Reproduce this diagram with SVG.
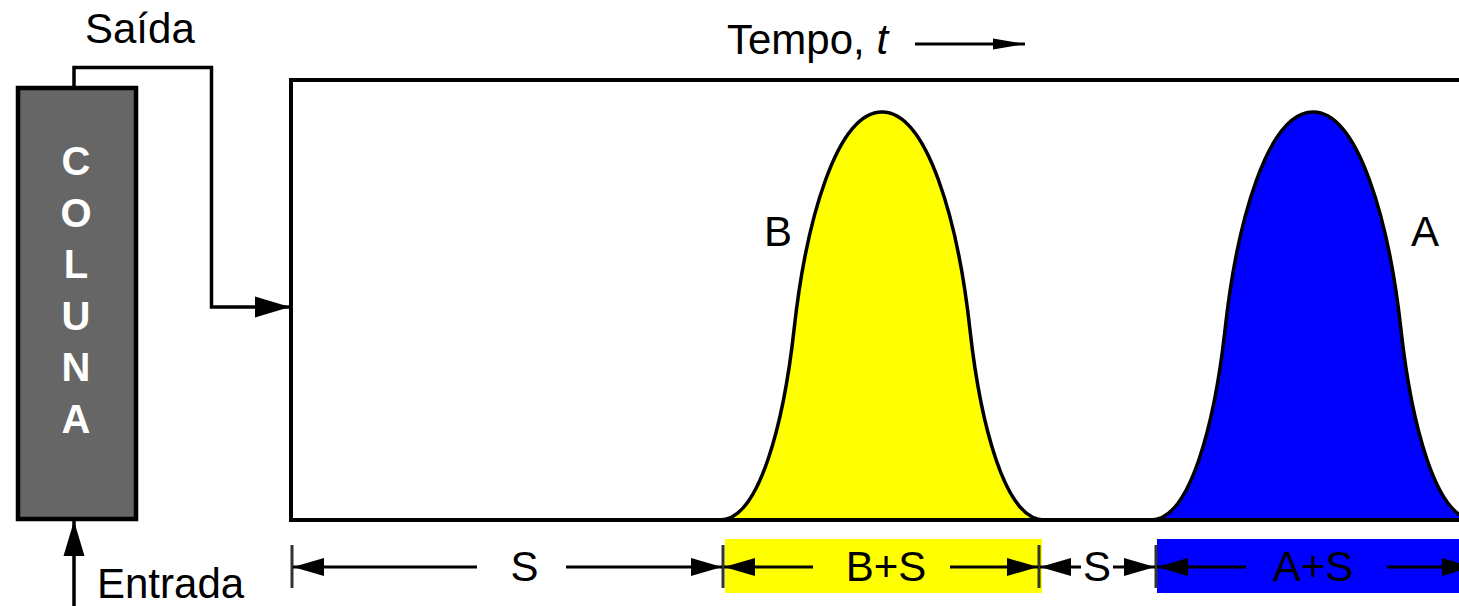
<svg xmlns="http://www.w3.org/2000/svg" width="1459" height="606" viewBox="0 0 1459 606">
  <style>
    .t { font-family: "Liberation Sans", Arial, sans-serif; font-size: 42px; fill: #000; }
    .col { font-family: "Liberation Sans", Arial, sans-serif; font-size: 40px; font-weight: bold; fill: #fff; text-anchor: middle; }
    .mid { text-anchor: middle; }
    .pipe { fill: none; stroke: #000; stroke-width: 3.5; }
    .dim { fill: none; stroke: #000; stroke-width: 3; }
    .tick { stroke: #333; stroke-width: 3; }
    .peak { stroke: #000; stroke-width: 3.5; }
  </style>
  <defs>
    <marker id="ahBig" markerUnits="userSpaceOnUse" markerWidth="36" markerHeight="22" refX="35" refY="11" orient="auto-start-reverse">
      <path d="M0,0.5 L35,11 L0,21.5 z" fill="#000"/>
    </marker>
    <marker id="ahDim" markerUnits="userSpaceOnUse" markerWidth="32" markerHeight="20" refX="31" refY="10" orient="auto-start-reverse">
      <path d="M0,1 L31,10 L0,19 z" fill="#000"/>
    </marker>
    <marker id="ahSmall" markerUnits="userSpaceOnUse" markerWidth="33" markerHeight="14" refX="32" refY="7" orient="auto-start-reverse">
      <path d="M0,1.5 L32,7 L0,12.5 z" fill="#000"/>
    </marker>
  </defs>

  <rect width="1459" height="606" fill="#fff"/>

  <g id="chart">
    <rect x="291" y="80" width="1300" height="440" fill="#fff"/>
    <g id="peakB">
      <path class="peak" fill="#ffff00" d="M720,520 C760,520 784,420 794,330 C806,220 837,112 882,112 C927,112 958,220 970,330 C980,420 1004,520 1044,520 Z"/>
      <text class="t" x="764" y="246">B</text>
    </g>
    <g id="peakA">
      <path class="peak" fill="#0000ff" transform="translate(431,0)" d="M720,520 C760,520 784,420 794,330 C806,220 837,112 882,112 C927,112 958,220 970,330 C980,420 1004,520 1044,520 Z"/>
      <text class="t" x="1411" y="246">A</text>
    </g>
    <rect x="291" y="80" width="1300" height="440" fill="none" stroke="#000" stroke-width="4"/>
    <text id="tempo" class="t" x="727" y="54">Tempo, <tspan font-style="italic">t</tspan></text>
  </g>

  <g id="column">
    <rect x="18" y="88" width="118" height="431" fill="#666666" stroke="#000" stroke-width="4.5"/>
    <text class="col" x="76" y="175">C</text>
    <text class="col" x="76" y="226.5">O</text>
    <text class="col" x="76" y="278">L</text>
    <text class="col" x="76" y="329.5">U</text>
    <text class="col" x="76" y="381">N</text>
    <text class="col" x="76" y="432.5">A</text>
  </g>

  <g id="saida"><text class="t" x="85" y="43">Saída</text></g>
  <g id="entrada"><text class="t" x="97" y="598">Entrada</text></g>

  <g id="connectors">
    <polyline class="pipe" points="74,86 74,67.5 211.5,67.5 211.5,307 290,307" marker-end="url(#ahBig)"/>
    <line class="pipe" x1="74" y1="606" x2="74" y2="521" marker-end="url(#ahBig)"/>
    <line class="dim" x1="915" y1="44" x2="1025" y2="44" stroke-width="2.5" marker-end="url(#ahSmall)"/>
  </g>

  <g id="dimensions">
    <rect x="725" y="539" width="317" height="54" fill="#ffff00"/>
    <rect x="1157" y="539" width="320" height="54" fill="#0000ff"/>
    <line class="tick" x1="292" y1="545" x2="292" y2="588"/>
    <line class="tick" x1="723" y1="545" x2="723" y2="588"/>
    <line class="tick" x1="1039" y1="545" x2="1039" y2="588"/>
    <line class="tick" x1="1156" y1="545" x2="1156" y2="588"/>

    <line class="dim" x1="293" y1="567" x2="477" y2="567" marker-start="url(#ahDim)"/>
    <text class="t mid" x="524.5" y="581">S</text>
    <line class="dim" x1="566" y1="567" x2="722" y2="567" marker-end="url(#ahDim)"/>

    <line class="dim" x1="724" y1="567" x2="813" y2="567" marker-start="url(#ahDim)"/>
    <text class="t mid" x="886" y="581">B+S</text>
    <line class="dim" x1="950" y1="567" x2="1038" y2="567" marker-end="url(#ahDim)"/>

    <line class="dim" x1="1040" y1="567" x2="1081" y2="567" marker-start="url(#ahDim)"/>
    <text class="t mid" x="1097" y="581">S</text>
    <line class="dim" x1="1113" y1="567" x2="1155" y2="567" marker-end="url(#ahDim)"/>

    <line class="dim" x1="1157" y1="567" x2="1246" y2="567" marker-start="url(#ahDim)"/>
    <text class="t mid" x="1313" y="581">A+S</text>
    <line class="dim" x1="1387" y1="567" x2="1473" y2="567" marker-end="url(#ahDim)"/>
  </g>
</svg>
